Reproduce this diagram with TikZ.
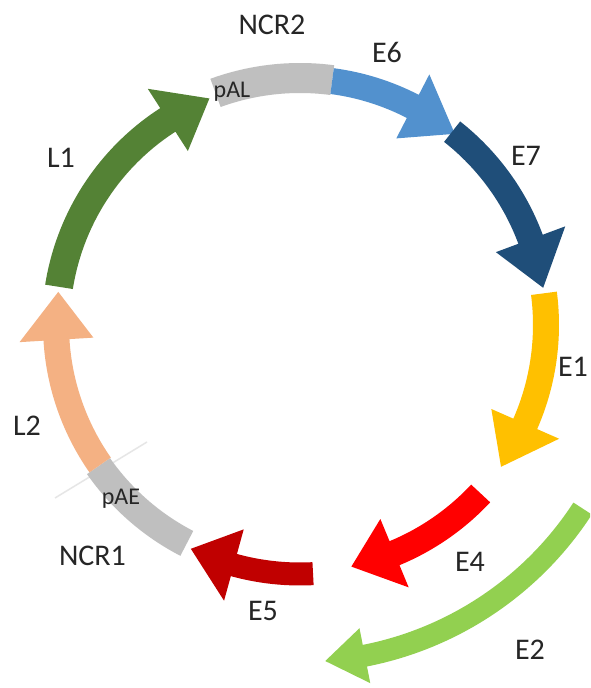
\documentclass[tikz,border=0pt]{standalone}
\usepackage{fontspec}
\setmainfont{Carlito}
\definecolor{ncrgray}{HTML}{BFBFBF}
\definecolor{ceSix}{HTML}{5291CE}
\definecolor{ceSeven}{HTML}{1F4E79}
\definecolor{ceOne}{HTML}{FFC000}
\definecolor{ceFour}{HTML}{FF0000}
\definecolor{ceTwo}{HTML}{92D050}
\definecolor{ceFive}{HTML}{C00000}
\definecolor{clTwo}{HTML}{F4B183}
\definecolor{clOne}{HTML}{548235}
\definecolor{faint}{HTML}{E6E6E6}
% #1 colour, #2 start angle, #3 tip angle, #4 head length (deg), #5 radius, #6 half band, #7 half head
\newcommand\curvarrow[7]{%
  \pgfmathsetmacro\hbase{#3+#4}%
  \fill[#1] ({#2}:{#5+#6}) arc[start angle={#2}, end angle=\hbase, radius={#5+#6}]
    -- (\hbase:{#5+#7}) -- ({#3}:{#5}) -- (\hbase:{#5-#7}) -- (\hbase:{#5-#6})
    arc[start angle=\hbase, end angle={#2}, radius={#5-#6}] -- cycle;}
\newcommand\bandseg[5]{%
  \fill[#1] ({#2}:{#4+#5}) arc[start angle={#2}, end angle={#3}, radius={#4+#5}]
    -- ({#3}:{#4-#5}) arc[start angle={#3}, end angle={#2}, radius={#4-#5}] -- cycle;}
\tikzset{
  biglabel/.style={font=\fontsize{30}{32}\selectfont, inner sep=0pt, text depth=0pt, text=black!85},
  smalllabel/.style={font=\fontsize{24}{26}\selectfont, inner sep=0pt, text depth=0pt, text=black!85}
}
\begin{document}
\begin{tikzpicture}[x=1pt,y=1pt]
\useasboundingbox (0,0) rectangle (590,688);
\clip (0,0) rectangle (590,688);
\fill[white] (0,0) rectangle (590,688);
% faint tick at pAE
\draw[faint, line width=1.5pt] (55,190) -- (147,246);
\begin{scope}[shift={(300,363)}]
  % NCR2 grey band
  \bandseg{ncrgray}{110}{82.5}{247}{15}
  % E6
  \curvarrow{ceSix}{82.5}{51}{11.7}{246}{13}{36}
  % E7
  \curvarrow{ceSeven}{51.8}{8.7}{11.7}{246}{13}{37}
  % E1
  \curvarrow{ceOne}{7.4}{-35.2}{11.5}{246}{13}{37}
  % E4
  \curvarrow{ceFour}{-43}{-78}{10.5}{247}{13}{37}
  % E5
  \curvarrow{ceFive}{-87}{-116}{10.6}{249}{11.5}{37}
  % NCR1 grey band
  \bandseg{ncrgray}{-117.4}{-145}{246}{14}
  % L2
  \curvarrow{clTwo}{-145}{-187.8}{11.3}{244}{13}{37}
  % L1
  \curvarrow{clOne}{171}{111.8}{11}{244}{14}{37}
  % E2 outer
  \curvarrow{ceTwo}{-33}{-85.7}{6.8}{337}{11}{28}
\end{scope}
% labels
\node[biglabel] (ncr2) at (272,663) {NCR2};
\node[biglabel] (e6) at (387,635.5) {E6};
\node[biglabel] (e7) at (526,532) {E7};
\node[biglabel] (e1) at (573,321) {E1};
\node[biglabel] (e4) at (470,126) {E4};
\node[biglabel] (e2) at (530,38) {E2};
\node[biglabel] (e5) at (263,77) {E5};
\node[biglabel] (ncr1) at (92.5,132) {NCR1};
\node[biglabel] (l2) at (27,262) {L2};
\node[biglabel] (l1) at (61,530) {L1};
\node[smalllabel] (pal) at (232,598) {pAL};
\node[smalllabel] (pae) at (121,191) {pAE};
\end{tikzpicture}
\end{document}
